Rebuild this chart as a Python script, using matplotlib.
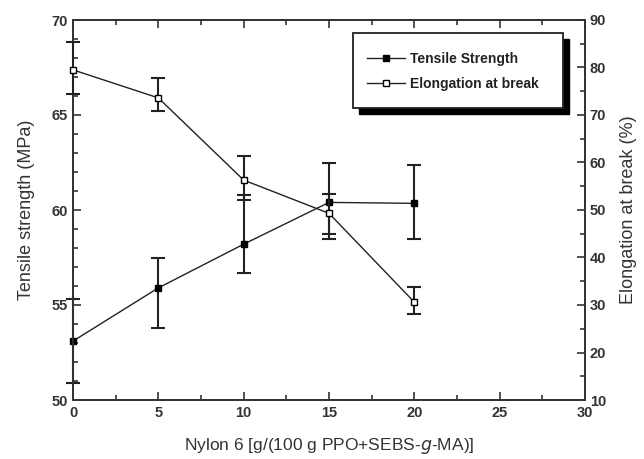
import matplotlib
matplotlib.use("Agg")
import matplotlib.pyplot as plt
from matplotlib.patches import Rectangle
from matplotlib.ticker import MultipleLocator
from matplotlib.lines import Line2D

plt.rcParams['font.family'] = ['Liberation Sans', 'DejaVu Sans']

nylon = [0, 5, 10, 15, 20]
tensile = [53.1, 55.9, 58.2, 60.4, 60.35]
tensile_err_low = [2.2, 2.1, 1.5, 1.95, 1.9]
tensile_err_high = [2.2, 1.6, 2.6, 2.05, 2.0]
elong = [79.5, 73.6, 56.3, 49.3, 30.6]
elong_err_low = [5.1, 2.7, 4.1, 4.4, 2.5]
elong_err_high = [5.8, 4.1, 5.1, 4.0, 3.1]

W, H = 644, 459
fig = plt.figure(figsize=(W / 100, H / 100), dpi=100)
L, R, T, B = 73, 585, 20, 400
ax = fig.add_axes([L / W, 1 - B / H, (R - L) / W, (B - T) / H])
ax2 = ax.twinx()

col = '#222222'
ax.errorbar(nylon, tensile, yerr=[tensile_err_low, tensile_err_high], color=col,
            lw=1.0, elinewidth=1.5, capsize=5, capthick=1.5, marker='s', ms=5,
            mfc='black', mec='black', clip_on=False, zorder=3)
ax2.errorbar(nylon, elong, yerr=[elong_err_low, elong_err_high], color=col,
             lw=1.0, elinewidth=1.5, capsize=5, capthick=1.5, marker='s', ms=5,
             mfc='white', mec='black', clip_on=False, zorder=3)

ax.set_xlim(0, 30)
ax.set_ylim(50, 70)
ax2.set_ylim(10, 90)
ax.xaxis.set_major_locator(MultipleLocator(5))
ax.xaxis.set_minor_locator(MultipleLocator(2.5))
ax.yaxis.set_major_locator(MultipleLocator(5))
ax.yaxis.set_minor_locator(MultipleLocator(1))
ax2.yaxis.set_major_locator(MultipleLocator(10))
ax2.yaxis.set_minor_locator(MultipleLocator(5))

for a in (ax, ax2):
    for s in a.spines.values():
        s.set_linewidth(1.3)
        s.set_color('#333333')
    a.tick_params(which='both', direction='in', colors='#333333', labelcolor='#333333',
                  labelsize=10.5, width=1.2)
    a.tick_params(which='major', length=6)
    a.tick_params(which='minor', length=3.5)
    for lab in a.get_xticklabels() + a.get_yticklabels():
        lab.set_fontweight('bold')
ax.tick_params(axis='x', which='both', top=True)
ax.tick_params(axis='y', which='both', right=False)
ax.tick_params(axis='x', pad=4)

ax.set_xlabel('Nylon 6 [g/(100 g PPO+SEBS-$\\mathit{g}$-MA)]', fontsize=12.5,
              color='#333333', labelpad=12)
ax.set_ylabel('Tensile strength (MPa)', fontsize=13, color='#333333', labelpad=12)
ax2.set_ylabel('Elongation at break (%)', fontsize=13, color='#333333', labelpad=10)

# legend box with offset black shadow
lx0, ly0, lx1, ly1 = 353, 33, 563, 108
off = 6
fig.patches.append(Rectangle(((lx0 + off) / W, 1 - (ly1 + off) / H), (lx1 - lx0) / W,
                             (ly1 - ly0) / H, transform=fig.transFigure,
                             facecolor='black', edgecolor='black', zorder=10))
fig.patches.append(Rectangle((lx0 / W, 1 - ly1 / H), (lx1 - lx0) / W, (ly1 - ly0) / H,
                             transform=fig.transFigure, facecolor='white',
                             edgecolor='#222222', lw=1.3, zorder=11))
handles = [Line2D([], [], color=col, lw=1.0, marker='s', ms=5, mfc='black', mec='black'),
           Line2D([], [], color=col, lw=1.0, marker='s', ms=5, mfc='white', mec='black')]
leg = fig.legend(handles, ['Tensile Strength', 'Elongation at break'], frameon=False,
                 loc='upper left', bbox_to_anchor=((lx0 + 1) / W, 1 - (ly0 + 6) / H),
                 handlelength=2.8, handletextpad=0.3, labelspacing=0.85,
                 borderpad=0.4, prop={'weight': 'bold', 'size': 10})
leg.set_zorder(12)
for t in leg.get_texts():
    t.set_color('#222222')

fig.savefig('out.png', dpi=100)
